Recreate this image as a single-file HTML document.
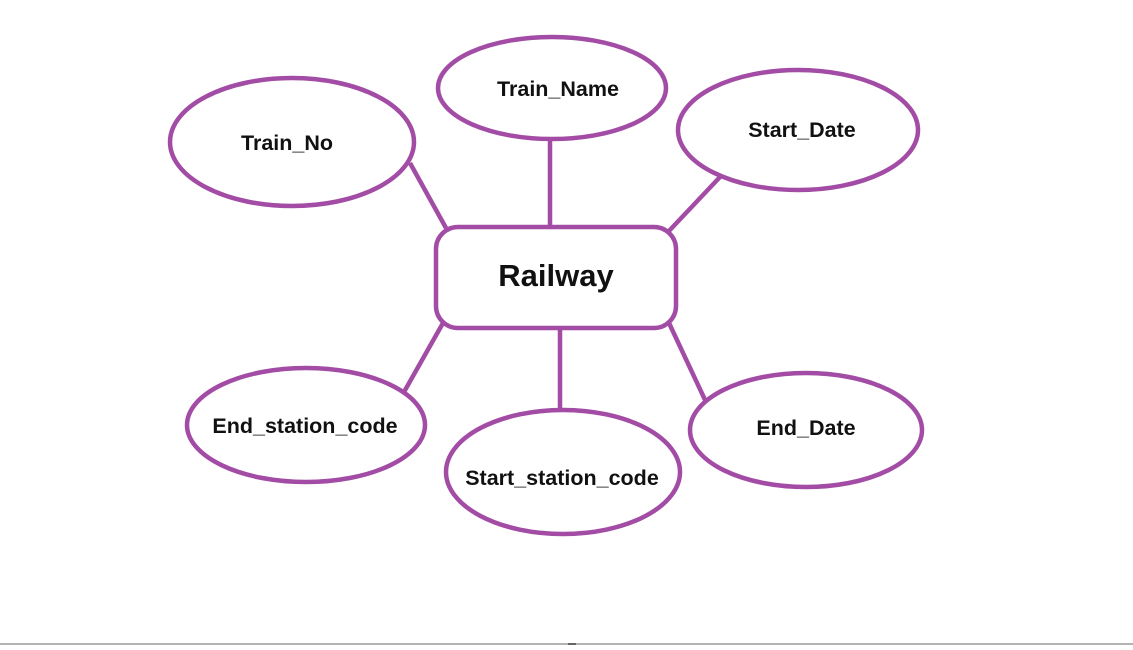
<!DOCTYPE html>
<html><head><style>
html,body{margin:0;padding:0;background:#fff;}
svg text{font-family:"Liberation Sans",sans-serif;font-weight:bold;fill:#111;}
</style></head><body>
<svg width="1133" height="645" viewBox="0 0 1133 645" xmlns="http://www.w3.org/2000/svg">
<rect width="1133" height="645" fill="#fff"/>
<g stroke="#a34ca5" stroke-width="4.5" fill="none">
<line x1="410" y1="163" x2="446" y2="228"/>
<line x1="550" y1="140" x2="550" y2="226"/>
<line x1="720" y1="177" x2="668" y2="232"/>
<line x1="443" y1="323" x2="404" y2="392"/>
<line x1="560" y1="329" x2="560" y2="410"/>
<line x1="669" y1="323" x2="706" y2="402"/>
<ellipse cx="292" cy="142" rx="122" ry="64" fill="#fff"/>
<ellipse cx="552" cy="88" rx="114" ry="51" fill="#fff"/>
<ellipse cx="798" cy="130" rx="120" ry="60" fill="#fff"/>
<ellipse cx="306" cy="425" rx="119" ry="57" fill="#fff"/>
<ellipse cx="563" cy="472" rx="117" ry="62" fill="#fff"/>
<ellipse cx="806" cy="430" rx="116" ry="57" fill="#fff"/>
<rect x="436" y="227" width="240" height="101" rx="22" ry="22" fill="#fff"/>
</g>
<g font-size="21.5" text-anchor="middle">
<text x="287" y="150">Train_No</text>
<text x="558" y="96">Train_Name</text>
<text x="802" y="137">Start_Date</text>
<text x="305" y="433">End_station_code</text>
<text x="562" y="485">Start_station_code</text>
<text x="806" y="435">End_Date</text>
<text x="556" y="286" font-size="31">Railway</text>
</g>
<rect x="0" y="643" width="1133" height="2" fill="#b3b3b3"/>
<rect x="568" y="643" width="8" height="2" fill="#666"/>
</svg>
</body></html>
